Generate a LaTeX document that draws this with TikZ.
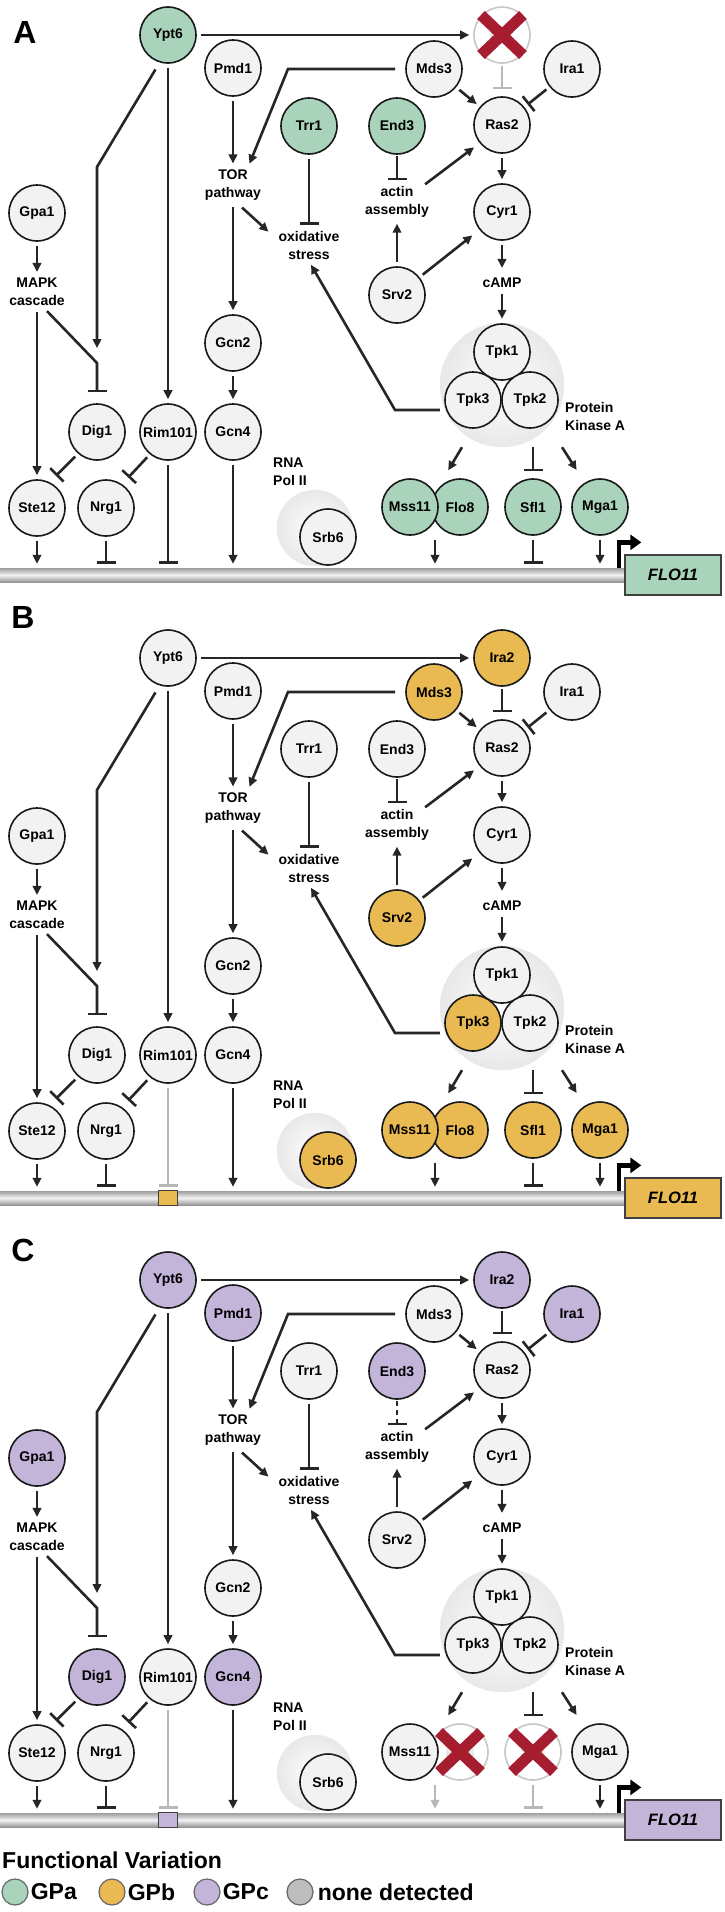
\documentclass[tikz,border=0pt]{standalone}
\usepackage{fontspec}
\setmainfont{Liberation Sans}
\usetikzlibrary{arrows.meta,positioning}

\definecolor{gpa}{HTML}{A9D4BB}
\definecolor{gpb}{HTML}{E9BA52}
\definecolor{gpc}{HTML}{C3B5DA}
\definecolor{nonefill}{HTML}{F2F2F2}
\definecolor{nonedot}{HTML}{BDBDBD}
\definecolor{xred}{HTML}{A51D2F}

\tikzset{
  prot/.style={circle,draw=black!90,line width=1.6pt,fill=nonefill,minimum size=56pt,inner sep=0pt},
  lbl/.style={align=center,inner sep=2pt,font=\fontsize{14}{18}\selectfont\bfseries},
  halo/.style={circle,inner sep=0pt,draw=black!7,inner color=white,outer color=black!9},
  act/.style={-{Triangle[length=9pt,width=8.5pt]},line width=2.6pt,draw=black!85,shorten <=4pt,shorten >=4pt},
  inh/.style={-{Bar[width=19pt]},line width=2.6pt,draw=black!85,shorten <=4pt,shorten >=4pt},
  faded/.style={draw=black!28},
  lost/.style={draw=black!22,fill=white,text=black!12},
  xmark/.style={draw=xred,line width=11pt},
  dnabar/.style={rectangle,inner sep=0pt,minimum width=625pt,minimum height=14pt,
    top color=black!38,bottom color=black!42,middle color=black!5},
  flobox/.style={rectangle,inner sep=0pt,minimum width=96pt,minimum height=40pt,fill=white,
    draw=black!75,line width=1.3pt,font=\fontsize{16.5}{18}\selectfont\bfseries\itshape},
  prom/.style={-{Triangle[length=11pt,width=15pt]},line width=4.5pt,line join=miter},
  site/.style={rectangle,inner sep=0pt,minimum width=19pt,minimum height=15pt,draw=black!75,line width=1.1pt},
  panel/.style={font=\fontsize{32}{32}\selectfont\bfseries},
  legdot/.style={circle,inner sep=0pt,minimum size=26pt,draw=black!60,line width=1.2pt},
  legtxt/.style={inner sep=0pt,font=\fontsize{23}{24}\selectfont\bfseries},
  gdef/.style={g#1/.style={}},
  gdef/.list={Ypt6,Pmd1,Trr1,Gcn2,Gcn4,Gpa1,Dig1,Rim101,Ste12,Nrg1,Srb6,Ira2,Mds3,Ira1,Ras2,
    End3,Cyr1,Srv2,Tpk1,Tpk2,Tpk3,Flo8,Mss11,Sfl1,Mga1,FLO11},
  lIra2/.style={},lRim/.style={},lEnd3/.style={},lMss/.style={},lSfl/.style={}
}

\newcommand{\knockout}[1]{%
  \draw[xmark] ([shift={(-21pt,-20pt)}]#1.center) -- ([shift={(21pt,20pt)}]#1.center);
  \draw[xmark] ([shift={(-21pt,20pt)}]#1.center) -- ([shift={(21pt,-20pt)}]#1.center);}

\newcommand{\flopanel}{%
  \node[prot,gYpt6] (Ypt6) at (168,35) {Ypt6};
  \node[prot,gPmd1] (Pmd1) at (233,68) {Pmd1};
  \node[prot,gTrr1] (Trr1) at (309,126) {Trr1};
  \node[lbl] (TOR) at (233,185) {TOR\\pathway};
  \node[lbl] (ox) at (309,245) {oxidative\\stress};
  \node[prot,gGcn2] (Gcn2) at (233,343) {Gcn2};
  \node[prot,gGcn4] (Gcn4) at (233,432) {Gcn4};
  \node[prot,gGpa1] (Gpa1) at (37,213) {Gpa1};
  \node[lbl] (MAPK) at (37,292) {MAPK\\cascade};
  \node[prot,gDig1] (Dig1) at (97,432) {Dig1};
  \node[prot,gRim101] (Rim101) at (168,432) {Rim101};
  \node[prot,gSte12] (Ste12) at (37,508) {Ste12};
  \node[prot,gNrg1] (Nrg1) at (106,508) {Nrg1};
  \node[lbl,align=left,anchor=west] (pol) at (271,472) {RNA\\Pol II};
  \node[halo,minimum size=76pt] (polhalo) at (315,528) {};
  \node[prot,gSrb6] (Srb6) at (328,537) {Srb6};
  \node[prot,gIra2] (Ira2) at (502,35) {Ira2};
  \node[prot,gMds3] (Mds3) at (434,69) {Mds3};
  \node[prot,gIra1] (Ira1) at (572,69) {Ira1};
  \node[prot,gRas2] (Ras2) at (502,125) {Ras2};
  \node[prot,gEnd3] (End3) at (397,126) {End3};
  \node[lbl] (actin) at (397,202) {actin\\assembly};
  \node[prot,gCyr1] (Cyr1) at (502,212) {Cyr1};
  \node[lbl] (cAMP) at (502,283) {cAMP};
  \node[prot,gSrv2] (Srv2) at (397,295) {Srv2};
  \node[halo,minimum size=124pt] (pka) at (502,385) {};
  \node[prot,gTpk1] (Tpk1) at (502,352) {Tpk1};
  \node[prot,gTpk3] (Tpk3) at (473,400) {Tpk3};
  \node[prot,gTpk2] (Tpk2) at (530,400) {Tpk2};
  \node[lbl,align=left,anchor=west] (pkalbl) at (563,416) {Protein\\Kinase A};
  \node[prot,gFlo8] (Flo8) at (460,507) {Flo8};
  \node[prot,gMss11] (Mss11) at (410,507) {Mss11};
  \node[prot,gSfl1] (Sfl1) at (533,507) {Sfl1};
  \node[prot,gMga1] (Mga1) at (600,507) {Mga1};
  \node[dnabar] (dna) at (312.5,575) {};
  \node[flobox,gFLO11] (flo) at (673,575) {FLO11};
  \coordinate (k1) at (288,69);
  \coordinate (k2) at (395,410);
  \coordinate (k3) at (97,363);
  \coordinate (k4) at (97,167);
  \path (Mss11.south) -- (Flo8.south) coordinate[pos=0.5] (mf);
  %
  \draw[act] (Ypt6) -- (Ira2);
  \draw[act,shorten <=10pt] (Mds3) -- (k1) -- ([xshift=15pt]TOR.north);
  \draw[act] (Pmd1) -- (TOR);
  \draw[act] (TOR) -- (Gcn2);
  \draw[act,shorten <=0pt,shorten >=0pt] ([xshift=9pt,yshift=-5pt]TOR.south) -- ([xshift=-8pt,yshift=-3pt]ox.north west);
  \draw[inh] (Trr1) -- (ox);
  \draw[act,shorten <=0pt] ([yshift=-25pt]pka.west) -- (k2) -- (ox.south);
  \draw[act] (Gcn2) -- (Gcn4);
  \draw[act] (Gpa1) -- (MAPK);
  \draw[act] (MAPK) -- (Ste12);
  \draw[inh,shorten <=0pt,shorten >=11pt] ([xshift=10pt,yshift=-3pt]MAPK.south) -- (k3) -- (Dig1);
  \draw[act,shorten <=8pt,shorten >=0pt] (Ypt6.253) -- (k4) -- ([yshift=15pt]k3);
  \draw[act] (Ypt6) -- (Rim101);
  \draw[inh,shorten >=9pt] (Dig1.229) -- (Ste12.64);
  \draw[inh,shorten >=9pt] (Rim101.231) -- (Nrg1.56);
  \draw[inh,lRim] (Rim101) -- (Rim101 |- dna.north);
  \draw[act] (Gcn4) -- (Gcn4 |- dna.north);
  \draw[act] (Ste12) -- (Ste12 |- dna.north);
  \draw[inh] (Nrg1) -- (Nrg1 |- dna.north);
  \draw[act,lMss] (mf) -- (mf |- dna.north);
  \draw[inh,lSfl] (Sfl1) -- (Sfl1 |- dna.north);
  \draw[act] (Mga1) -- (Mga1 |- dna.north);
  \draw[prom] ([xshift=-6pt]dna.north east) |- ([xshift=17pt,yshift=12pt]flo.north west);
  \draw[inh,lIra2,shorten <=2pt,shorten >=7pt] (Ira2) -- (Ras2);
  \draw[act] (Mds3) -- (Ras2);
  \draw[inh] (Ira1) -- (Ras2);
  \draw[inh,lEnd3,shorten <=1pt] (End3) -- (actin);
  \draw[act,shorten <=0pt,shorten >=7pt] ([xshift=-6pt]actin.north east) -- (Ras2.219);
  \draw[act] (Ras2) -- (Cyr1);
  \draw[act,shorten >=8pt] (Cyr1) -- (cAMP);
  \draw[act] (cAMP) -- (pka);
  \draw[act] (Srv2) -- (actin);
  \draw[act,shorten >=9pt] (Srv2) -- (Cyr1);
  \draw[act,shorten <=0pt,shorten >=26pt] ([xshift=-40pt]pka.south) -- (Mss11.30);
  \draw[inh,shorten <=0pt,shorten >=7pt] (pka.south -| Sfl1) -- (Sfl1);
  \draw[act,shorten <=0pt,shorten >=15pt] ([xshift=60pt]pka.south) -- (Mga1.122);
}

\begin{document}
\begin{tikzpicture}[x=1pt,y=-1pt,font=\fontsize{14}{17}\selectfont\bfseries]
\useasboundingbox (0,0) rectangle (724,1912);
\fill[white] (0,0) rectangle (724,1912);

\begin{scope}[gYpt6/.style={fill=gpa},gTrr1/.style={fill=gpa},gEnd3/.style={fill=gpa},
  gMss11/.style={fill=gpa},gFlo8/.style={fill=gpa},gSfl1/.style={fill=gpa},gMga1/.style={fill=gpa},
  gFLO11/.style={fill=gpa},gIra2/.style=lost,lIra2/.style=faded]
\flopanel
\knockout{Ira2}
\node[panel] (labA) at (25,32) {A};
\end{scope}

\begin{scope}[yshift=-623pt,gIra2/.style={fill=gpb},gMds3/.style={fill=gpb},gSrv2/.style={fill=gpb},
  gTpk3/.style={fill=gpb},gMss11/.style={fill=gpb},gFlo8/.style={fill=gpb},gSfl1/.style={fill=gpb},
  gMga1/.style={fill=gpb},gSrb6/.style={fill=gpb},gFLO11/.style={fill=gpb},lRim/.style=faded]
\flopanel
\node[site,fill=gpb] (rimsite) at (Rim101 |- dna) {};
\node[panel] (labB) at (23,-6) {B};
\end{scope}

\begin{scope}[yshift=-1245pt,gYpt6/.style={fill=gpc},gPmd1/.style={fill=gpc},gIra2/.style={fill=gpc},
  gIra1/.style={fill=gpc},gEnd3/.style={fill=gpc},gGpa1/.style={fill=gpc},gDig1/.style={fill=gpc},
  gGcn4/.style={fill=gpc},gFLO11/.style={fill=gpc},gFlo8/.style=lost,gSfl1/.style=lost,
  lRim/.style=faded,lMss/.style=faded,lSfl/.style=faded,lEnd3/.style={dash pattern=on 5pt off 4pt}]
\flopanel
\node[site,fill=gpc] (rimsite) at (Rim101 |- dna) {};
\knockout{Flo8}
\knockout{Sfl1}
\node[panel] (labC) at (23,5) {C};
\end{scope}

\node[legtxt,anchor=west] (legtitle) at (2,1860) {Functional Variation};
\node[legdot,fill=gpa] (dota) at (15,1892) {};
\node[legtxt,right=2pt of dota] (txta) {GPa};
\node[legdot,fill=gpb] (dotb) at (112,1892) {};
\node[legtxt,right=2pt of dotb] (txtb) {GPb};
\node[legdot,fill=gpc] (dotc) at (207,1892) {};
\node[legtxt,right=2pt of dotc] (txtc) {GPc};
\node[legdot,fill=nonedot] (dotn) at (300,1892) {};
\node[legtxt,right=4pt of dotn] (txtn) {none detected};
\end{tikzpicture}
\end{document}
